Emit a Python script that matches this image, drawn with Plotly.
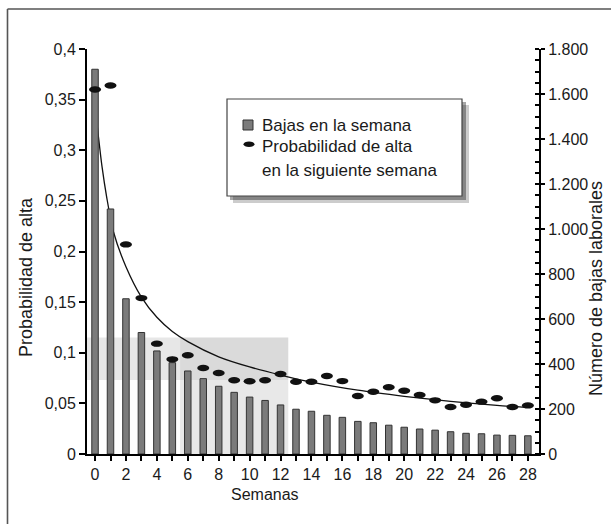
import plotly.graph_objects as go

# ---------------- data ----------------
weeks = list(range(29))
week_labels = [str(w) if w % 2 == 0 else "" for w in weeks]

bajas = [1710, 1089, 690, 540, 458, 406, 369, 335, 301, 274,
         253, 238, 218, 199, 190, 172, 163, 145, 139, 128,
         119, 111, 106, 99, 92, 90, 84, 83, 81]

prob_alta = [0.360, 0.364, 0.207, 0.154, 0.109, 0.0935, 0.0975, 0.085, 0.080, 0.0728,
             0.0718, 0.0728, 0.079, 0.0714, 0.0714, 0.077, 0.072, 0.0573, 0.0615, 0.0659,
             0.0625, 0.0583, 0.053, 0.0464, 0.0487, 0.0517, 0.055, 0.0464, 0.048]

# trend line
trend_x = [0.1, 0.2, 0.45, 0.75, 1.2, 2, 3, 4, 5, 6, 8, 10, 12, 14, 17, 20, 23, 26, 28]
trend_y = [0.330, 0.316, 0.284, 0.254, 0.219, 0.185, 0.155, 0.135, 0.121, 0.111,
           0.096, 0.086, 0.078, 0.071, 0.063, 0.057, 0.052, 0.048, 0.046]

band_prob = (0.073, 0.115)      # highlighted probability band
band_weeks = (5.5, 12.5)        # highlighted weeks

# ---------------- geometry helpers ----------------
W, H = 611, 524
ML, MR, MT, MB = 87, 72, 49, 70
PW, PH = W - ML - MR, H - MT - MB


def px(x):
    return (x - ML) / PW


def py(y):
    return (H - MB - y) / PH


FONT = "Liberation Sans, Arial, sans-serif"
TXT = "#1a1a1a"
BAR_FILL = "#7b7b7b"
TICK_SIZE = 16
LEG_SIZE = 17
TITLE_SIZE = 18

fig = go.Figure()

fig.add_trace(go.Scatter(x=trend_x, y=trend_y, mode="lines",
                         line=dict(color="#111", width=1.3, shape="spline", smoothing=0.8),
                         yaxis="y", name="Tendencia", hoverinfo="skip"))

fig.add_trace(go.Bar(x=weeks, y=bajas, width=0.42,
                     marker=dict(color=BAR_FILL, line=dict(color="#333", width=1)),
                     yaxis="y2", name="Bajas en la semana"))

fig.add_trace(go.Scatter(x=weeks, y=prob_alta, mode="markers", marker=dict(color="#111", size=5),
                         yaxis="y3", name="Probabilidad de alta en la siguiente semana"))

shapes = []
# highlighted areas
shapes.append(dict(type="rect", xref="x", yref="y", x0=-0.52, x1=band_weeks[0], y0=band_prob[0], y1=band_prob[1],
                   fillcolor="#e7e7e7", line=dict(width=0), layer="below"))
shapes.append(dict(type="rect", xref="x", yref="y", x0=band_weeks[0], x1=band_weeks[1], y0=0, y1=band_prob[0],
                   fillcolor="#e8e8e8", line=dict(width=0), layer="below"))
shapes.append(dict(type="rect", xref="x", yref="y", x0=band_weeks[0], x1=band_weeks[1], y0=band_prob[0], y1=band_prob[1],
                   fillcolor="#dadada", line=dict(width=0), layer="below"))

# elliptical dots anchored at data points
for w, p in zip(weeks, prob_alta):
    shapes.append(dict(type="circle", xref="x", yref="y", xsizemode="pixel", ysizemode="pixel",
                       xanchor=w, yanchor=p, x0=-6, x1=6, y0=-3.2, y1=3.2,
                       fillcolor="#111", line=dict(width=0), layer="above"))

# legend box with shadow
shapes.append(dict(type="rect", xref="paper", yref="paper", x0=px(233), x1=px(469), y0=py(203), y1=py(105),
                   fillcolor="rgba(0,0,0,0.2)", line=dict(width=0)))
shapes.append(dict(type="rect", xref="paper", yref="paper", x0=px(230), x1=px(466), y0=py(200), y1=py(102),
                   fillcolor="rgba(0,0,0,0.35)", line=dict(width=0)))
shapes.append(dict(type="rect", xref="paper", yref="paper", x0=px(227), x1=px(462), y0=py(196), y1=py(99),
                   fillcolor="white", line=dict(color="#444", width=1.2)))
shapes.append(dict(type="rect", xref="paper", yref="paper", x0=px(243), x1=px(253), y0=py(130), y1=py(120),
                   fillcolor=BAR_FILL, line=dict(color="#333", width=1)))
shapes.append(dict(type="circle", xref="paper", yref="paper", x0=px(243.5), x1=px(254.5), y0=py(147), y1=py(141.5),
                   fillcolor="#111", line=dict(width=0)))

# outer frame (left and top edges)
shapes.append(dict(type="line", xref="paper", yref="paper", x0=px(7.5), x1=px(7.5), y0=py(9), y1=py(540),
                   line=dict(color="#555", width=1.6)))
shapes.append(dict(type="line", xref="paper", yref="paper", x0=px(7.5), x1=px(630), y0=py(9), y1=py(9),
                   line=dict(color="#555", width=1.6)))


def ann(text, x, y, size, angle=0, xanchor="center"):
    return dict(xref="paper", yref="paper", x=px(x), y=py(y), xanchor=xanchor, yanchor="middle",
                text=text, showarrow=False, textangle=angle, font=dict(family=FONT, size=size, color=TXT))


annotations = [
    ann("Bajas en la semana", 260, 125, LEG_SIZE, xanchor="left"),
    ann("Probabilidad de alta", 260, 146, LEG_SIZE, xanchor="left"),
    ann("en la siguiente semana", 260, 170, LEG_SIZE, xanchor="left"),
    ann("Probabilidad de alta", 26, 277, TITLE_SIZE, angle=-90),
    ann("Número de bajas laborales", 596, 289, TITLE_SIZE, angle=-90),
    ann("Semanas", 265, 494, TICK_SIZE),
]

axis_common = dict(showgrid=False, zeroline=False, showline=True, linecolor="black", linewidth=2,
                   tickcolor="black", tickwidth=1.5, tickfont=dict(family=FONT, size=TICK_SIZE, color=TXT))

fig.update_layout(
    width=W, height=H, margin=dict(l=ML, r=MR, t=MT, b=MB),
    paper_bgcolor="white", plot_bgcolor="white", showlegend=False,
    separators=",.", font=dict(family=FONT, size=TICK_SIZE, color=TXT),
    xaxis=dict(range=[-0.52, 28.72], tickmode="array", tickvals=weeks, ticktext=week_labels,
               ticks="outside", ticklen=5, **axis_common),
    yaxis=dict(range=[0, 0.4], tick0=0, dtick=0.05, ticks="outside", ticklen=6, **axis_common),
    yaxis2=dict(range=[0, 1800], tick0=0, dtick=200, overlaying="y", side="right", anchor="x",
                ticks="outside", ticklen=4, tickformat=",d",
                minor=dict(dtick=50, ticks="inside", ticklen=4, tickcolor="black", tickwidth=1.5),
                **axis_common),
    yaxis3=dict(range=[0, 0.4], overlaying="y", visible=False),
    shapes=shapes, annotations=annotations,
)

fig.write_html("out.html")
